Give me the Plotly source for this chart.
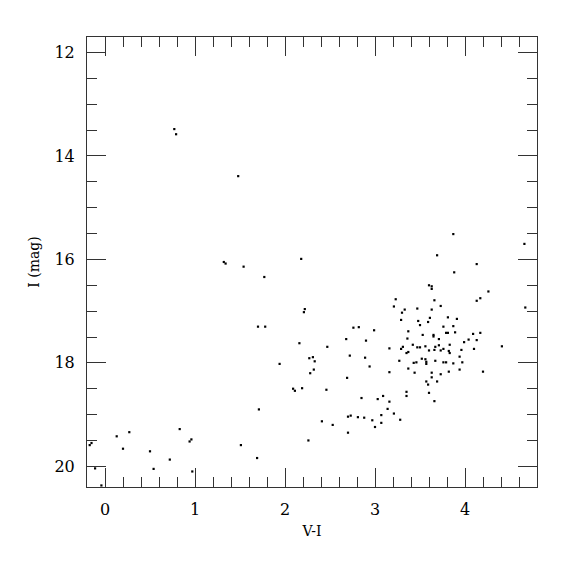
import plotly.graph_objects as go

# Colour index V-I and I magnitude
v_i = [0.77, 0.79, 1.48, 3.87, 4.66, 3.69, 2.18,
       -0.15, -0.17, -0.11, -0.04, 0.13, 0.27, 0.20, 0.50, 0.54, 0.72, 0.83, 0.94, 0.96, 0.97,
       1.32, 1.34, 1.54, 1.77, 1.70, 1.78, 1.94, 2.09, 2.11, 1.71, 1.51, 1.69, 2.16,
       4.13, 3.88, 3.60, 3.63, 3.63, 4.26, 4.17, 4.13, 3.66, 3.23, 3.21, 3.73, 4.67, 2.22, 2.21,
       3.33, 3.47, 3.63, 3.30, 3.29, 3.48, 3.50, 3.61, 3.59, 3.81, 3.91, 3.76, 3.87, 3.79, 3.81,
       3.89, 3.37, 3.53, 3.65, 3.65, 3.36, 3.71, 2.76, 2.82, 2.99, 2.68, 2.90, 2.47, 3.16, 3.29,
       3.31, 3.35, 3.37, 3.42, 3.47, 3.50, 3.56, 3.60, 3.66, 3.67, 3.71, 3.73, 3.76, 3.83, 3.82,
       3.83, 3.96, 3.99, 4.04, 4.09, 4.13, 4.17, 4.10, 4.41, 3.94, 3.97, 3.87, 3.82, 3.94, 4.20,
       3.76, 3.79, 3.67, 3.52, 3.56, 3.57, 3.57, 3.43, 3.46, 3.27, 3.37, 3.44, 3.63, 3.73, 3.63,
       3.69, 3.57, 3.59, 3.60, 3.66, 3.35, 3.35, 3.16, 2.89, 2.94, 2.72, 2.27, 2.31, 2.33, 2.32,
       2.28, 2.69, 2.19, 2.46, 2.85, 3.03, 3.09, 3.16, 3.14, 3.21, 3.28, 3.07, 3.07, 2.97, 3.00,
       2.88, 2.81, 2.70, 2.73, 2.70, 2.53, 2.41, 2.26]

i_mag = [13.48, 13.58, 14.39, 15.51, 15.70, 15.92, 15.99,
         19.55, 19.59, 20.04, 20.37, 19.42, 19.34, 19.66, 19.71, 20.05, 19.87, 19.28, 19.52, 19.48, 20.10,
         16.05, 16.08, 16.14, 16.34, 17.30, 17.30, 18.02, 18.50, 18.54, 18.90, 19.59, 19.84, 17.62,
         16.09, 16.25, 16.50, 16.52, 16.57, 16.62, 16.75, 16.80, 16.79, 16.77, 16.91, 16.90, 16.93, 16.96, 17.02,
         16.97, 16.95, 16.97, 17.03, 17.17, 17.19, 17.27, 17.13, 17.21, 17.12, 17.15, 17.30, 17.29, 17.42, 17.42,
         17.41, 17.39, 17.46, 17.46, 17.49, 17.53, 17.54, 17.32, 17.31, 17.37, 17.54, 17.57, 17.69, 17.72, 17.73,
         17.69, 17.81, 17.79, 17.65, 17.70, 17.70, 17.68, 17.76, 17.75, 17.69, 17.66, 17.76, 17.73, 17.65, 17.77,
         17.81, 17.75, 17.60, 17.55, 17.44, 17.56, 17.42, 17.73, 17.68, 17.88, 17.99, 18.01, 18.17, 18.13, 18.17,
         17.99, 17.99, 17.96, 17.92, 17.93, 17.98, 18.02, 18.00, 17.99, 17.96, 18.11, 18.19, 18.19, 18.22, 18.28,
         18.36, 18.36, 18.42, 18.58, 18.74, 18.56, 18.64, 18.18, 17.90, 18.07, 17.86, 17.91, 17.89, 17.97, 18.13,
         18.20, 18.29, 18.49, 18.52, 18.68, 18.70, 18.64, 18.75, 18.89, 18.98, 19.10, 19.01, 19.16, 19.11, 19.24,
         19.06, 19.05, 19.04, 19.02, 19.35, 19.20, 19.13, 19.50]

x_title = "V-I"
y_title = "I (mag)"

fig = go.Figure(go.Scatter(
    x=v_i, y=i_mag, mode="markers",
    marker=dict(symbol="square", size=2.2, color="black", line=dict(width=0)),
    hoverinfo="x+y",
))

axis_common = dict(
    showline=True, linecolor="#333333", linewidth=1, mirror="ticks",
    ticks="inside", ticklen=19, tickwidth=1, tickcolor="#333333",
    showgrid=False, zeroline=False,
    tickfont=dict(family="DejaVu Serif", size=16, color="black"),
    title_font=dict(family="DejaVu Serif", size=14, color="black"),
)

fig.update_xaxes(
    range=[-0.2, 4.8], tick0=0, dtick=1,
    minor=dict(dtick=0.2, ticks="inside", ticklen=10, tickcolor="#333333", showgrid=False),
    title_text=x_title, title_standoff=7, ticklabelstandoff=8,
    **axis_common,
)
fig.update_yaxes(
    range=[20.4, 11.7], tick0=12, dtick=2,
    minor=dict(dtick=0.5, ticks="inside", ticklen=10, tickcolor="#333333", showgrid=False),
    title_text=y_title, title_standoff=11, ticklabelstandoff=8,
    **axis_common,
)

fig.update_layout(
    width=575, height=575,
    margin=dict(l=79, r=46, t=29, b=96),
    plot_bgcolor="white", paper_bgcolor="white",
    showlegend=False,
)

fig.write_html("out.html")
